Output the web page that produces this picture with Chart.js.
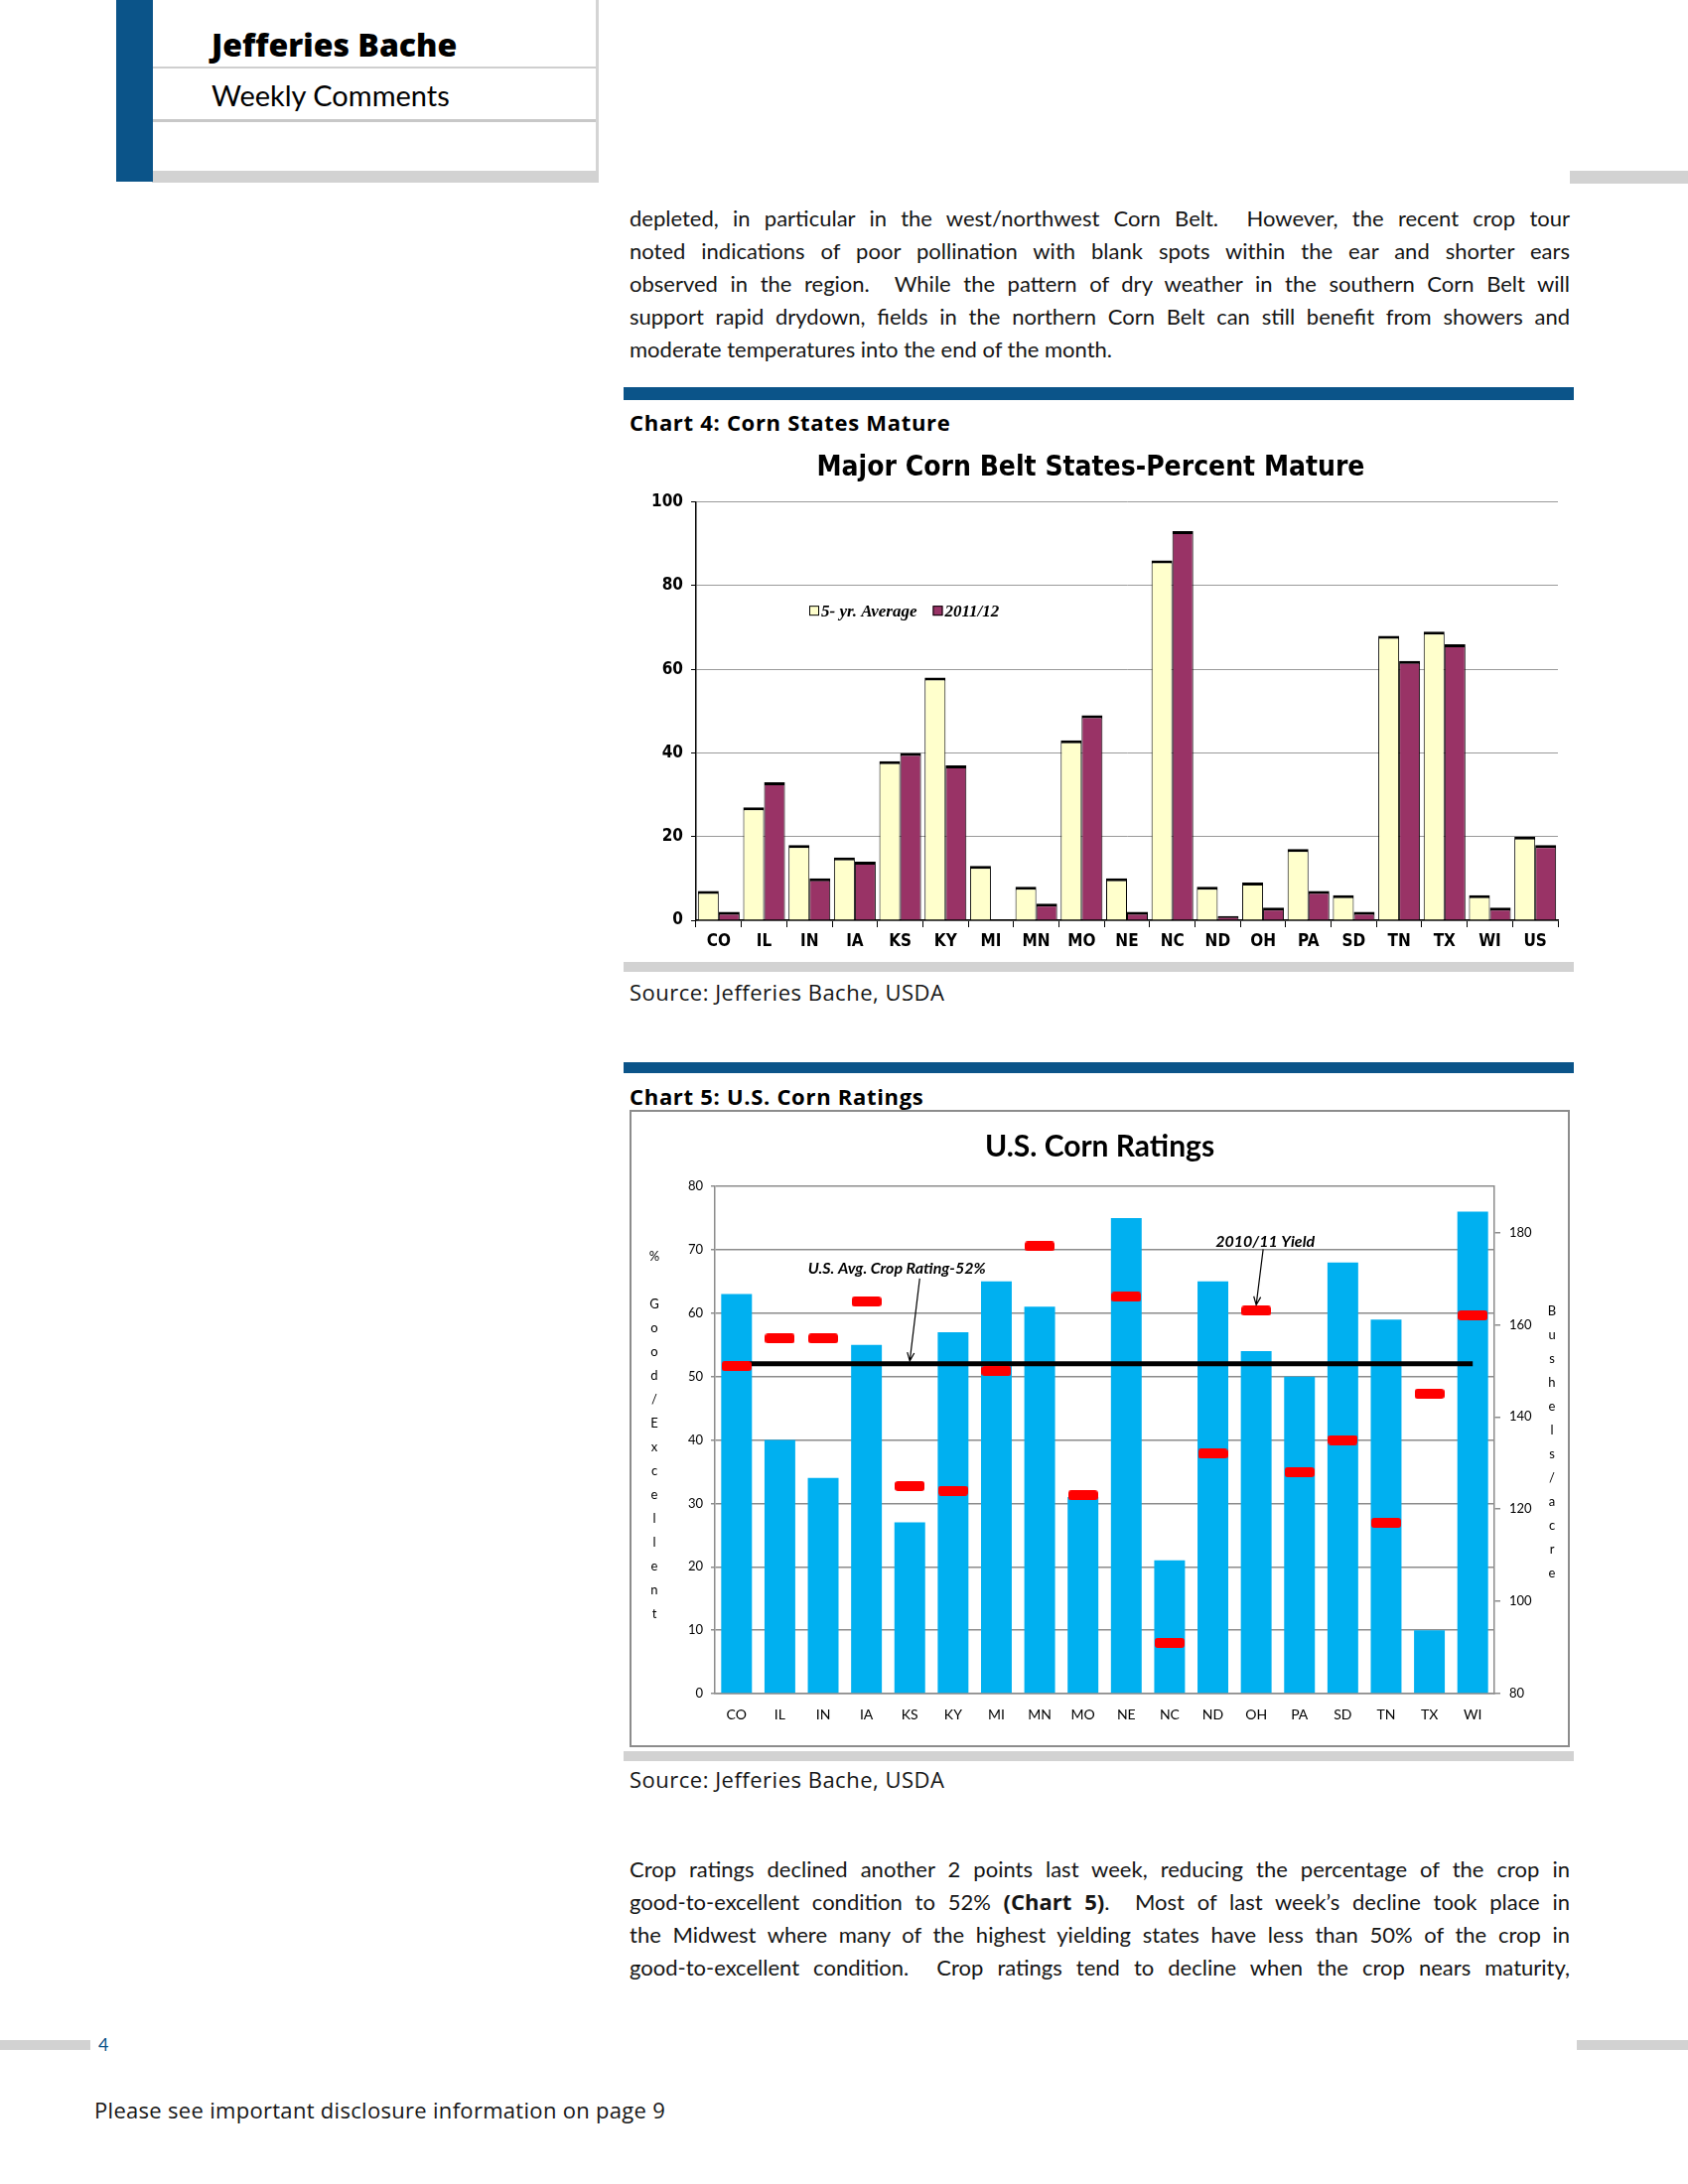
<!DOCTYPE html>
<html>
<head>
<meta charset="utf-8">
<script src="https://cdn.jsdelivr.net/npm/chart.js@4.4.0/dist/chart.umd.min.js"></script>
<style>
  body { margin: 0; background: #fff; font-family: Lato, "Open Sans", sans-serif; color: #151515; }
  #page { position: relative; width: 1700px; height: 2200px; overflow: hidden; background: #fff; }
  .abs { position: absolute; }
  .blue { background: #0b5489; }
  .gray { background: #d2d2d2; }
  .para { position: absolute; left: 634px; width: 947px; font-size: 22px; line-height: 33px; }
  .para div { text-align: justify; text-align-last: justify; }
  .para div.last { text-align-last: left; }
  .head { position: absolute; left: 634px; font-family: "Open Sans", sans-serif; font-size: 22px; letter-spacing: 0.7px; font-weight: bold; line-height: 26px; color: #000; }
  .src { position: absolute; left: 634px; font-family: "Open Sans", sans-serif; font-size: 22px; letter-spacing: 0.5px; line-height: 26px; }
</style>
</head>
<body>
<div id="page">
  <!-- header block -->
  <div class="abs gray" style="left:153px;top:172px;width:450px;height:12px"></div>
  <div class="abs" style="left:154px;top:67px;width:447px;height:2px;background:#cfcfcf"></div>
  <div class="abs" style="left:154px;top:120px;width:447px;height:3px;background:#c8c8c8"></div>
  <div class="abs" style="left:600px;top:0;width:3px;height:172px;background:#d4d4d4"></div>
  <div class="abs blue" style="left:117px;top:0;width:37px;height:183px"></div>
  <div class="abs" style="left:213px;top:24px;font-family:'Open Sans',sans-serif;font-size:32px;font-weight:800;line-height:42px;color:#000">Jefferies Bache</div>
  <div class="abs" style="left:213px;top:78px;font-size:29px;line-height:35px;color:#000">Weekly Comments</div>
  <div class="abs gray" style="left:1581px;top:172px;width:119px;height:13px"></div>

  <div class="para" style="top:203px">
    <div>depleted, in particular in the west/northwest Corn Belt.&nbsp; However, the recent crop tour</div>
    <div>noted indications of poor pollination with blank spots within the ear and shorter ears</div>
    <div>observed in the region.&nbsp; While the pattern of dry weather in the southern Corn Belt will</div>
    <div>support rapid drydown, fields in the northern Corn Belt can still benefit from showers and</div>
    <div class="last">moderate temperatures into the end of the month.</div>
  </div>

  <!-- chart 4 -->
  <div class="abs blue" style="left:628px;top:390px;width:957px;height:13px"></div>
  <div class="head" style="top:412px">Chart 4: Corn States Mature</div>
  <div class="abs" style="left:628px;top:440px;width:957px;height:530px">
    <canvas id="matureChart" width="957" height="530"></canvas>
  </div>
  <div class="abs gray" style="left:628px;top:969px;width:957px;height:10px"></div>
  <div class="src" style="top:986px">Source: Jefferies Bache, USDA</div>

  <!-- chart 5 -->
  <div class="abs blue" style="left:628px;top:1070px;width:957px;height:11px"></div>
  <div class="head" style="top:1091px">Chart 5: U.S. Corn Ratings</div>
  <div class="abs" style="left:634px;top:1118px;width:943px;height:638px;border:2px solid #8c8c8c">
    <canvas id="ratingChart" width="943" height="638"></canvas>
  </div>
  <div class="abs gray" style="left:628px;top:1764px;width:957px;height:10px"></div>
  <div class="src" style="top:1779px">Source: Jefferies Bache, USDA</div>

  <div class="para" style="top:1866px">
    <div>Crop ratings declined another 2 points last week, reducing the percentage of the crop in</div>
    <div>good-to-excellent condition to 52% <b style="font-family:'Open Sans',sans-serif">(Chart 5)</b>.&nbsp; Most of last week’s decline took place in</div>
    <div>the Midwest where many of the highest yielding states have less than 50% of the crop in</div>
    <div>good-to-excellent condition.&nbsp; Crop ratings tend to decline when the crop nears maturity,</div>
  </div>

  <!-- footer -->
  <div class="abs gray" style="left:0;top:2055px;width:91px;height:10px"></div>
  <div class="abs" style="left:99px;top:2048px;font-size:18px;line-height:22px;color:#0b5489">4</div>
  <div class="abs gray" style="left:1588px;top:2055px;width:112px;height:10px"></div>
  <div class="abs" style="left:95px;top:2112px;font-family:'Open Sans',sans-serif;font-size:22px;letter-spacing:0.3px;line-height:26px">Please see important disclosure information on page 9</div>
</div>

<script>
// Chart 4 data
const states4 = ["CO", "IL", "IN", "IA", "KS", "KY", "MI", "MN", "MO", "NE", "NC", "ND", "OH", "PA", "SD", "TN", "TX", "WI", "US"];
const avg5yr = [7, 27, 18, 15, 38, 58, 13, 8, 43, 10, 86, 8, 9, 17, 6, 68, 69, 6, 20];
const mature1112 = [2, 33, 10, 14, 40, 37, 0, 4, 49, 2, 93, 1, 3, 7, 2, 62, 66, 3, 18];
const matureLabels = ["5- yr. Average", "2011/12"];

// Chart 5 data
const states5 = ["CO", "IL", "IN", "IA", "KS", "KY", "MI", "MN", "MO", "NE", "NC", "ND", "OH", "PA", "SD", "TN", "TX", "WI"];
const goodExcellent = [63, 40, 34, 55, 27, 57, 65, 61, 31, 75, 21, 65, 54, 50, 68, 59, 10, 76];
const yield1011 = [151, 157, 157, 165, 125, 124, 150, 177, 123, 166, 91, 132, 163, 128, 135, 117, 145, 162];
const usAvgRating = 52;
const leftTitle = "%";
const leftTitle2 = "Good/Excellent";
const rightTitle = "Bushels/acre";

const narrow = "'Liberation Sans Narrow', 'DejaVu Sans Condensed', 'Liberation Sans', sans-serif";

// legend drawn inside the plot, like the original
const matureLegend = {
  id: "matureLegend",
  afterDraw(chart) {
    const ctx = chart.ctx;
    const area = chart.chartArea;
    const y = chart.scales.y.getPixelForValue(74);
    let x = area.left + 114;
    ctx.save();
    ctx.font = "italic bold 17px 'Liberation Serif', serif";
    ctx.textBaseline = "middle";
    chart.data.datasets.forEach(function (ds) {
      ctx.fillStyle = ds.backgroundColor;
      ctx.strokeStyle = "#000";
      ctx.lineWidth = 1;
      ctx.fillRect(x, y - 5, 10, 10);
      ctx.strokeRect(x + 0.5, y - 4.5, 9, 9);
      ctx.fillStyle = "#000";
      ctx.fillText(ds.label, x + 12, y + 1);
      x += 12 + ctx.measureText(ds.label).width + 16;
    });
    ctx.restore();
  },
};

new Chart(document.getElementById("matureChart").getContext("2d"), {
  type: "bar",
  data: {
    labels: states4,
    datasets: [
      {
        label: matureLabels[0],
        data: avg5yr,
        backgroundColor: "#ffffcc",
        borderColor: "#000",
        borderWidth: { top: 3, left: 1, right: 1, bottom: 0 },
        barPercentage: 1,
        categoryPercentage: 0.92,
      },
      {
        label: matureLabels[1],
        data: mature1112,
        backgroundColor: "#993366",
        borderColor: "#000",
        borderWidth: { top: 3, left: 1, right: 1, bottom: 0 },
        barPercentage: 1,
        categoryPercentage: 0.92,
      },
    ],
  },
  options: {
    responsive: false,
    animation: false,
    layout: { padding: { left: 0, right: 16, top: 0, bottom: 0 } },
    plugins: {
      legend: { display: false },
      tooltip: { enabled: false },
      title: {
        display: true,
        text: "Major Corn Belt States-Percent Mature",
        color: "#000",
        font: { family: narrow, size: 28, weight: "bold" },
        padding: { top: 15, bottom: 17 },
      },
    },
    scales: {
      x: {
        grid: { offset: true, drawOnChartArea: false, drawTicks: true, tickLength: 7, color: "#000" },
        border: { color: "#000", width: 1.5 },
        ticks: { color: "#000", font: { family: narrow, size: 17, weight: "bold" }, padding: 4, maxRotation: 0 },
        afterFit: function (s) { s.height = 43; },
      },
      y: {
        min: 0,
        max: 100,
        ticks: { stepSize: 20, color: "#000", font: { family: narrow, size: 17, weight: "bold" }, padding: 8 },
        grid: { color: "#9a9a9a", tickColor: "#000", tickLength: 5 },
        border: { color: "#000", width: 1.5 },
        afterFit: function (s) { s.width = 73; },
      },
    },
  },
  plugins: [matureLegend],
});

// red yield dash used as point style
const dash = document.createElement("canvas");
dash.width = 30;
dash.height = 10;
(function () {
  const c = dash.getContext("2d");
  c.fillStyle = "#ff0000";
  c.beginPath();
  c.roundRect(0, 0, 30, 10, 3);
  c.fill();
})();

function arrow(ctx, x1, y1, x2, y2) {
  const a = Math.atan2(y2 - y1, x2 - x1);
  ctx.beginPath();
  ctx.moveTo(x1, y1);
  ctx.lineTo(x2, y2);
  ctx.moveTo(x2 - 9 * Math.cos(a - 0.4), y2 - 9 * Math.sin(a - 0.4));
  ctx.lineTo(x2, y2);
  ctx.lineTo(x2 - 9 * Math.cos(a + 0.4), y2 - 9 * Math.sin(a + 0.4));
  ctx.stroke();
}

const ratingNotes = {
  id: "ratingNotes",
  afterDraw(chart) {
    const ctx = chart.ctx;
    const area = chart.chartArea;
    const x = chart.scales.x;
    const y = chart.scales.y;
    const y1 = chart.scales.y1;
    ctx.save();
    ctx.fillStyle = "#000";
    ctx.strokeStyle = "#000";
    ctx.lineWidth = 1.2;
    ctx.textAlign = "center";
    ctx.textBaseline = "middle";

    // stacked axis titles
    ctx.font = "13px Lato, sans-serif";
    const lx = area.left - 61;
    ctx.fillText(leftTitle, lx, area.top + 71);
    leftTitle2.split("").forEach(function (ch, i) {
      ctx.fillText(ch, lx, area.top + 119 + i * 24);
    });
    const rx = area.right + 58;
    rightTitle.split("").forEach(function (ch, i) {
      ctx.fillText(ch, rx, area.top + 126 + i * 24);
    });

    // U.S. average note, pointing at the line above KS
    ctx.font = "italic bold 16px Lato, sans-serif";
    const ks = states5.indexOf("KS");
    const tx = x.getPixelForValue(ks);
    const ty = y.getPixelForValue(usAvgRating);
    ctx.fillText("U.S. Avg. Crop Rating-52%", tx - 13, ty - 96);
    arrow(ctx, tx + 10, ty - 86, tx, ty - 3);

    // 2010/11 yield note, pointing at OH
    const oh = states5.indexOf("OH");
    const ox = x.getPixelForValue(oh);
    const oy = y1.getPixelForValue(yield1011[oh]);
    ctx.fillText("2010/11 Yield", ox + 9, oy - 70);
    arrow(ctx, ox + 7, oy - 62, ox, oy - 6);
    ctx.restore();
  },
};

new Chart(document.getElementById("ratingChart").getContext("2d"), {
  data: {
    labels: states5,
    datasets: [
      {
        type: "line",
        label: "2010/11 Yield",
        data: yield1011,
        yAxisID: "y1",
        showLine: false,
        pointStyle: dash,
        pointRadius: 3,
        order: 0,
      },
      {
        type: "line",
        label: "U.S. Avg. Crop Rating",
        data: states5.map(function () { return usAvgRating; }),
        yAxisID: "y",
        borderColor: "#000",
        borderWidth: 5,
        pointRadius: 0,
        order: 1,
      },
      {
        type: "bar",
        label: "% Good/Excellent",
        data: goodExcellent,
        yAxisID: "y",
        backgroundColor: "#00b0f0",
        barPercentage: 1,
        categoryPercentage: 0.71,
        order: 2,
      },
    ],
  },
  options: {
    responsive: false,
    animation: false,
    layout: { padding: 0 },
    plugins: {
      legend: { display: false },
      tooltip: { enabled: false },
      title: {
        display: true,
        text: "U.S. Corn Ratings",
        color: "#000",
        font: { family: "Lato, sans-serif", size: 30, weight: "bold" },
        padding: { top: 17, bottom: 22 },
      },
    },
    scales: {
      x: {
        grid: { display: false, drawTicks: false },
        border: { color: "#8c8c8c", width: 1.5 },
        ticks: { color: "#000", font: { family: "Lato, sans-serif", size: 14 }, padding: 13, maxRotation: 0 },
        afterFit: function (s) { s.height = 52; },
      },
      y: {
        position: "left",
        min: 0,
        max: 80,
        ticks: { stepSize: 10, color: "#000", font: { family: "Lato, sans-serif", size: 13 }, padding: 8 },
        grid: { color: "#8c8c8c", lineWidth: 1.5, tickLength: 4 },
        border: { color: "#8c8c8c", width: 1.5 },
        afterFit: function (s) { s.width = 84; },
      },
      y1: {
        position: "right",
        min: 80,
        max: 190,
        ticks: { stepSize: 20, includeBounds: false, color: "#000", font: { family: "Lato, sans-serif", size: 13 }, padding: 9 },
        grid: { drawOnChartArea: false, color: "#8c8c8c", lineWidth: 1.5, tickLength: 6 },
        border: { color: "#8c8c8c", width: 1.5 },
        afterFit: function (s) { s.width = 74; },
      },
    },
  },
  plugins: [ratingNotes],
});
</script>
</body>
</html>
